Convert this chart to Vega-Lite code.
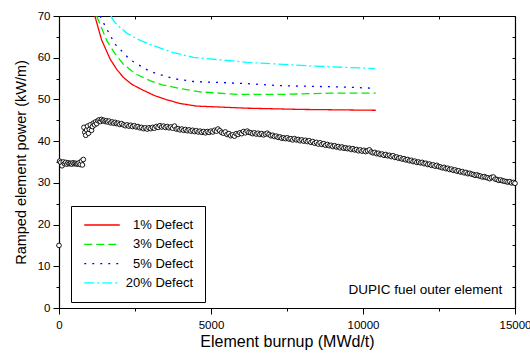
{
  "$schema": "https://vega.github.io/schema/vega-lite/v6.json",
  "width": 456,
  "height": 292,
  "autosize": {"type": "none"},
  "padding": {"left": 59, "top": 16, "right": 15, "bottom": 48},
  "config": {
    "font": "Liberation Sans",
    "view": {"stroke": null},
    "axis": {"grid": false, "domainColor": "black", "domainWidth": 1.2, "tickColor": "black", "tickWidth": 1, "labelColor": "black", "titleColor": "black", "labelFont": "Liberation Sans", "titleFont": "Liberation Sans", "titleFontWeight": "normal", "labelFontSize": 11.5},
    "legend": {"title": null, "orient": "none", "legendX": 12, "legendY": 190, "strokeColor": "black", "padding": 12, "symbolType": "M-3,0H3", "symbolSize": 140, "symbolOffset": 12, "symbolStrokeWidth": 1.3, "labelFontSize": 13, "labelAlign": "right", "labelOffset": 84, "rowPadding": 5.3, "labelFont": "Liberation Sans", "labelColor": "black", "fillColor": "white"}
  },
  "datasets": {
    "curves": [
      {"x": 1180, "y": 70, "s": "1% Defect"}, {"x": 1400, "y": 64.3, "s": "1% Defect"}, {"x": 1680, "y": 59.7, "s": "1% Defect"}, {"x": 1900, "y": 57.2, "s": "1% Defect"}, {"x": 2115, "y": 55.3, "s": "1% Defect"}, {"x": 2400, "y": 53.6, "s": "1% Defect"}, {"x": 2770, "y": 52.2, "s": "1% Defect"}, {"x": 3150, "y": 50.9, "s": "1% Defect"}, {"x": 3550, "y": 49.9, "s": "1% Defect"}, {"x": 4000, "y": 49.0, "s": "1% Defect"}, {"x": 4530, "y": 48.4, "s": "1% Defect"}, {"x": 6170, "y": 47.9, "s": "1% Defect"}, {"x": 8000, "y": 47.6, "s": "1% Defect"}, {"x": 10420, "y": 47.4, "s": "1% Defect"},
      {"x": 1240, "y": 70, "s": "3% Defect"}, {"x": 1570, "y": 64.1, "s": "3% Defect"}, {"x": 1840, "y": 61.0, "s": "3% Defect"}, {"x": 2110, "y": 58.5, "s": "3% Defect"}, {"x": 2500, "y": 56.2, "s": "3% Defect"}, {"x": 2990, "y": 54.5, "s": "3% Defect"}, {"x": 3400, "y": 53.5, "s": "3% Defect"}, {"x": 3980, "y": 52.6, "s": "3% Defect"}, {"x": 4640, "y": 51.8, "s": "3% Defect"}, {"x": 5950, "y": 51.2, "s": "3% Defect"}, {"x": 7270, "y": 51.2, "s": "3% Defect"}, {"x": 8910, "y": 51.5, "s": "3% Defect"}, {"x": 10420, "y": 51.5, "s": "3% Defect"},
      {"x": 1350, "y": 70, "s": "5% Defect"}, {"x": 1510, "y": 67.7, "s": "5% Defect"}, {"x": 1840, "y": 63.3, "s": "5% Defect"}, {"x": 2340, "y": 59.5, "s": "5% Defect"}, {"x": 2990, "y": 56.7, "s": "5% Defect"}, {"x": 3760, "y": 55.0, "s": "5% Defect"}, {"x": 4420, "y": 54.3, "s": "5% Defect"}, {"x": 6170, "y": 53.8, "s": "5% Defect"}, {"x": 7270, "y": 53.3, "s": "5% Defect"}, {"x": 9240, "y": 53.0, "s": "5% Defect"}, {"x": 10290, "y": 52.7, "s": "5% Defect"},
      {"x": 1710, "y": 70, "s": "20% Defect"}, {"x": 1800, "y": 68.8, "s": "20% Defect"}, {"x": 2000, "y": 67.3, "s": "20% Defect"}, {"x": 2230, "y": 65.9, "s": "20% Defect"}, {"x": 2600, "y": 64.4, "s": "20% Defect"}, {"x": 2990, "y": 63.2, "s": "20% Defect"}, {"x": 3760, "y": 61.2, "s": "20% Defect"}, {"x": 4420, "y": 60.1, "s": "20% Defect"}, {"x": 6170, "y": 58.9, "s": "20% Defect"}, {"x": 8370, "y": 58.0, "s": "20% Defect"}, {"x": 10390, "y": 57.4, "s": "20% Defect"}
    ],
    "measured": [
      {"x":0,"y":15},
      {"x":20,"y":35.2},{"x":60,"y":34.9},{"x":100,"y":34.1},{"x":140,"y":35.0},{"x":180,"y":34.6},{"x":220,"y":34.9},{"x":260,"y":34.5},{"x":300,"y":34.8},{"x":340,"y":34.6},{"x":380,"y":34.7},{"x":420,"y":34.5},{"x":460,"y":34.8},{"x":500,"y":34.6},{"x":540,"y":34.7},{"x":580,"y":34.5},{"x":620,"y":34.6},{"x":660,"y":34.8},{"x":700,"y":34.4},{"x":740,"y":35.2},{"x":770,"y":34.3},{"x":800,"y":35.6},
      {"x":820,"y":43.3},{"x":850,"y":42.1},{"x":880,"y":41.4},{"x":910,"y":42.7},{"x":940,"y":43.6},{"x":970,"y":41.9},{"x":1000,"y":42.8},{"x":1030,"y":43.9},{"x":1070,"y":42.6},{"x":1100,"y":43.5},{"x":1130,"y":44.3},{"x":1170,"y":43.9},{"x":1200,"y":44.6},{"x":1240,"y":44.2},{"x":1280,"y":44.9},{"x":1320,"y":45.1},{"x":1360,"y":44.7},{"x":1400,"y":45.2},{"x":1440,"y":44.9},{"x":1480,"y":45.0},{"x":1520,"y":44.7},{"x":1560,"y":44.9},{"x":1600,"y":44.6},{"x":1650,"y":44.8},{"x":1700,"y":44.4},{"x":1750,"y":44.6},{"x":1800,"y":44.3},{"x":1850,"y":44.5},{"x":1900,"y":44.2},{"x":1950,"y":44.3},{"x":2000,"y":44.0},{"x":2060,"y":44.2},{"x":2120,"y":43.9},{"x":2180,"y":43.7},{"x":2240,"y":43.9},{"x":2300,"y":43.6},{"x":2360,"y":43.8},{"x":2420,"y":43.5},{"x":2480,"y":43.7},{"x":2540,"y":43.4},{"x":2600,"y":43.5},{"x":2660,"y":43.2},{"x":2720,"y":43.3},{"x":2780,"y":43.0},{"x":2840,"y":43.2},{"x":2900,"y":42.9},{"x":2960,"y":43.2},{"x":3020,"y":43.0},{"x":3080,"y":43.3},{"x":3140,"y":43.1},{"x":3200,"y":43.5},{"x":3260,"y":43.3},{"x":3320,"y":43.7},{"x":3380,"y":43.4},{"x":3440,"y":43.6},{"x":3500,"y":43.3},{"x":3560,"y":43.5},{"x":3620,"y":43.2},{"x":3680,"y":43.4},{"x":3740,"y":43.1},{"x":3800,"y":43.6},{"x":3860,"y":42.9},{"x":3920,"y":43.0},{"x":3980,"y":42.7},{"x":4040,"y":42.9},{"x":4100,"y":42.6},{"x":4160,"y":42.8},{"x":4220,"y":42.5},{"x":4280,"y":42.7},{"x":4340,"y":42.4},{"x":4400,"y":42.6},{"x":4460,"y":42.3},{"x":4520,"y":42.5},{"x":4580,"y":42.2},{"x":4640,"y":42.4},{"x":4700,"y":42.1},{"x":4760,"y":42.3},{"x":4820,"y":42.0},{"x":4880,"y":42.3},{"x":4940,"y":42.1},{"x":5000,"y":42.4},{"x":5060,"y":42.2},{"x":5120,"y":42.6},{"x":5180,"y":42.4},{"x":5230,"y":42.9},{"x":5290,"y":42.5},{"x":5350,"y":42.1},{"x":5410,"y":41.9},{"x":5470,"y":42.2},{"x":5530,"y":41.6},{"x":5590,"y":41.8},{"x":5650,"y":41.3},{"x":5710,"y":41.5},{"x":5770,"y":41.2},{"x":5830,"y":41.8},{"x":5890,"y":41.6},{"x":5950,"y":42.0},{"x":6010,"y":41.8},{"x":6070,"y":42.3},{"x":6130,"y":42.0},{"x":6190,"y":42.4},{"x":6250,"y":42.1},{"x":6310,"y":42.0},{"x":6370,"y":41.8},{"x":6430,"y":42.0},{"x":6490,"y":41.7},{"x":6550,"y":41.9},{"x":6610,"y":41.6},{"x":6670,"y":41.8},{"x":6730,"y":41.5},{"x":6790,"y":41.7},{"x":6850,"y":41.9},{"x":6910,"y":41.6},{"x":6970,"y":41.3},{"x":7030,"y":41.4},{"x":7090,"y":41.1},{"x":7150,"y":41.2},{"x":7210,"y":40.9},{"x":7270,"y":41.0},{"x":7330,"y":40.7},{"x":7390,"y":40.8},{"x":7450,"y":40.6},{"x":7510,"y":40.8},{"x":7570,"y":40.5},{"x":7630,"y":40.6},{"x":7690,"y":40.3},{"x":7750,"y":40.6},{"x":7810,"y":40.3},{"x":7870,"y":40.4},{"x":7930,"y":40.1},{"x":7990,"y":40.3},{"x":8050,"y":40.0},{"x":8110,"y":40.2},{"x":8170,"y":39.9},{"x":8230,"y":40.1},{"x":8290,"y":39.7},{"x":8350,"y":39.9},{"x":8410,"y":39.5},{"x":8470,"y":39.7},{"x":8530,"y":39.3},{"x":8590,"y":39.6},{"x":8650,"y":39.2},{"x":8710,"y":39.4},{"x":8770,"y":39.0},{"x":8830,"y":39.2},{"x":8890,"y":38.9},{"x":8950,"y":39.0},{"x":9010,"y":38.7},{"x":9070,"y":38.9},{"x":9130,"y":38.6},{"x":9190,"y":38.7},{"x":9250,"y":38.4},{"x":9310,"y":38.6},{"x":9370,"y":38.3},{"x":9430,"y":38.4},{"x":9490,"y":38.2},{"x":9550,"y":38.3},{"x":9610,"y":38.0},{"x":9670,"y":38.2},{"x":9730,"y":37.9},{"x":9790,"y":38.0},{"x":9850,"y":37.7},{"x":9910,"y":37.9},{"x":9970,"y":37.6},{"x":10030,"y":37.8},{"x":10090,"y":37.5},{"x":10150,"y":37.7},{"x":10210,"y":37.9},{"x":10270,"y":37.4},{"x":10330,"y":37.2},{"x":10390,"y":37.3},{"x":10450,"y":37.0},{"x":10510,"y":37.1},{"x":10570,"y":36.8},{"x":10630,"y":36.9},{"x":10690,"y":36.6},{"x":10750,"y":36.8},{"x":10810,"y":36.5},{"x":10870,"y":36.6},{"x":10930,"y":36.3},{"x":10990,"y":36.5},{"x":11050,"y":36.1},{"x":11110,"y":36.2},{"x":11170,"y":35.9},{"x":11230,"y":36.0},{"x":11290,"y":35.7},{"x":11350,"y":35.8},{"x":11410,"y":35.5},{"x":11470,"y":35.6},{"x":11530,"y":35.3},{"x":11590,"y":35.4},{"x":11650,"y":35.1},{"x":11710,"y":35.2},{"x":11770,"y":34.9},{"x":11830,"y":35.0},{"x":11890,"y":34.8},{"x":11950,"y":34.9},{"x":12010,"y":34.6},{"x":12070,"y":34.7},{"x":12130,"y":34.4},{"x":12190,"y":34.5},{"x":12250,"y":34.2},{"x":12310,"y":34.3},{"x":12370,"y":34.0},{"x":12430,"y":34.2},{"x":12490,"y":33.9},{"x":12550,"y":33.8},{"x":12610,"y":33.6},{"x":12670,"y":33.7},{"x":12730,"y":33.4},{"x":12790,"y":33.5},{"x":12850,"y":33.2},{"x":12910,"y":33.3},{"x":12970,"y":33.0},{"x":13030,"y":33.1},{"x":13090,"y":32.8},{"x":13150,"y":32.9},{"x":13210,"y":32.6},{"x":13270,"y":32.7},{"x":13330,"y":32.4},{"x":13390,"y":32.5},{"x":13450,"y":32.2},{"x":13510,"y":32.3},{"x":13570,"y":32.1},{"x":13630,"y":32.0},{"x":13690,"y":31.8},{"x":13750,"y":31.9},{"x":13810,"y":31.7},{"x":13870,"y":31.6},{"x":13930,"y":31.4},{"x":13990,"y":31.5},{"x":14050,"y":31.3},{"x":14110,"y":31.2},{"x":14170,"y":31.0},{"x":14230,"y":31.3},{"x":14290,"y":31.4},{"x":14350,"y":30.9},{"x":14410,"y":30.8},{"x":14470,"y":30.6},{"x":14530,"y":30.7},{"x":14590,"y":30.5},{"x":14650,"y":30.4},{"x":14710,"y":30.3},{"x":14770,"y":30.2},{"x":14830,"y":30.3},{"x":14890,"y":30.0},{"x":14950,"y":30.1},{"x":15000,"y":29.9}
    ]
  },
  "resolve": {"axis": {"x": "independent", "y": "independent"}},
  "layer": [
    {
      "data": {"name": "curves"},
      "mark": {"type": "line", "strokeWidth": 1.3, "clip": true},
      "encoding": {
        "x": {"field": "x", "type": "quantitative", "scale": {"domain": [0, 15000], "nice": false},
          "axis": {"orient": "bottom", "title": "Element burnup (MWd/t)", "titleFontSize": 16, "titlePadding": 3, "values": [0, 2500, 5000, 7500, 10000, 12500, 15000], "format": "d", "labelExpr": "datum.value % 5000 === 0 ? datum.label : ''", "tickSize": {"condition": {"test": "datum.value % 5000 === 0", "value": 6}, "value": 3}, "labelPadding": 5, "labelFlush": false}},
        "y": {"field": "y", "type": "quantitative", "scale": {"domain": [0, 70], "nice": false},
          "axis": {"orient": "left", "title": "Ramped element power (kW/m)", "titleFontSize": 14.5, "titlePadding": 9, "values": [0, 5, 10, 15, 20, 25, 30, 35, 40, 45, 50, 55, 60, 65, 70], "labelExpr": "datum.value % 10 === 0 ? datum.label : ''", "tickSize": {"condition": {"test": "datum.value % 10 === 0", "value": 6}, "value": 3}, "labelPadding": 3}},
        "color": {"field": "s", "type": "nominal", "scale": {"domain": ["1% Defect", "3% Defect", "5% Defect", "20% Defect"], "range": ["#ff0000", "#00ee00", "#0000ff", "#00ffff"]}},
        "strokeDash": {"field": "s", "type": "nominal", "scale": {"domain": ["1% Defect", "3% Defect", "5% Defect", "20% Defect"], "range": [[1, 0], [8, 4], [2, 6], [10, 3, 2, 3]]}}
      }
    },
    {
      "data": {"name": "measured"},
      "mark": {"type": "point", "shape": "circle", "size": 22, "filled": false, "stroke": "black", "fill": "white", "fillOpacity": 1, "strokeWidth": 0.9, "opacity": 1},
      "encoding": {
        "x": {"field": "x", "type": "quantitative", "axis": {"orient": "top", "title": null, "labels": false, "values": [0, 2500, 5000, 7500, 10000, 12500, 15000], "tickSize": -3}},
        "y": {"field": "y", "type": "quantitative", "axis": {"orient": "right", "title": null, "labels": false, "values": [0, 5, 10, 15, 20, 25, 30, 35, 40, 45, 50, 55, 60, 65, 70], "tickSize": -3}}
      }
    },
    {
      "data": {"values": [{}]},
      "mark": {"type": "text", "align": "right", "baseline": "middle", "fontSize": 13.5, "font": "Liberation Sans", "color": "black"},
      "encoding": {
        "x": {"datum": 14580, "type": "quantitative", "axis": null},
        "y": {"datum": 4.3, "type": "quantitative", "axis": null},
        "text": {"value": "DUPIC fuel outer element"}
      }
    }
  ]
}
